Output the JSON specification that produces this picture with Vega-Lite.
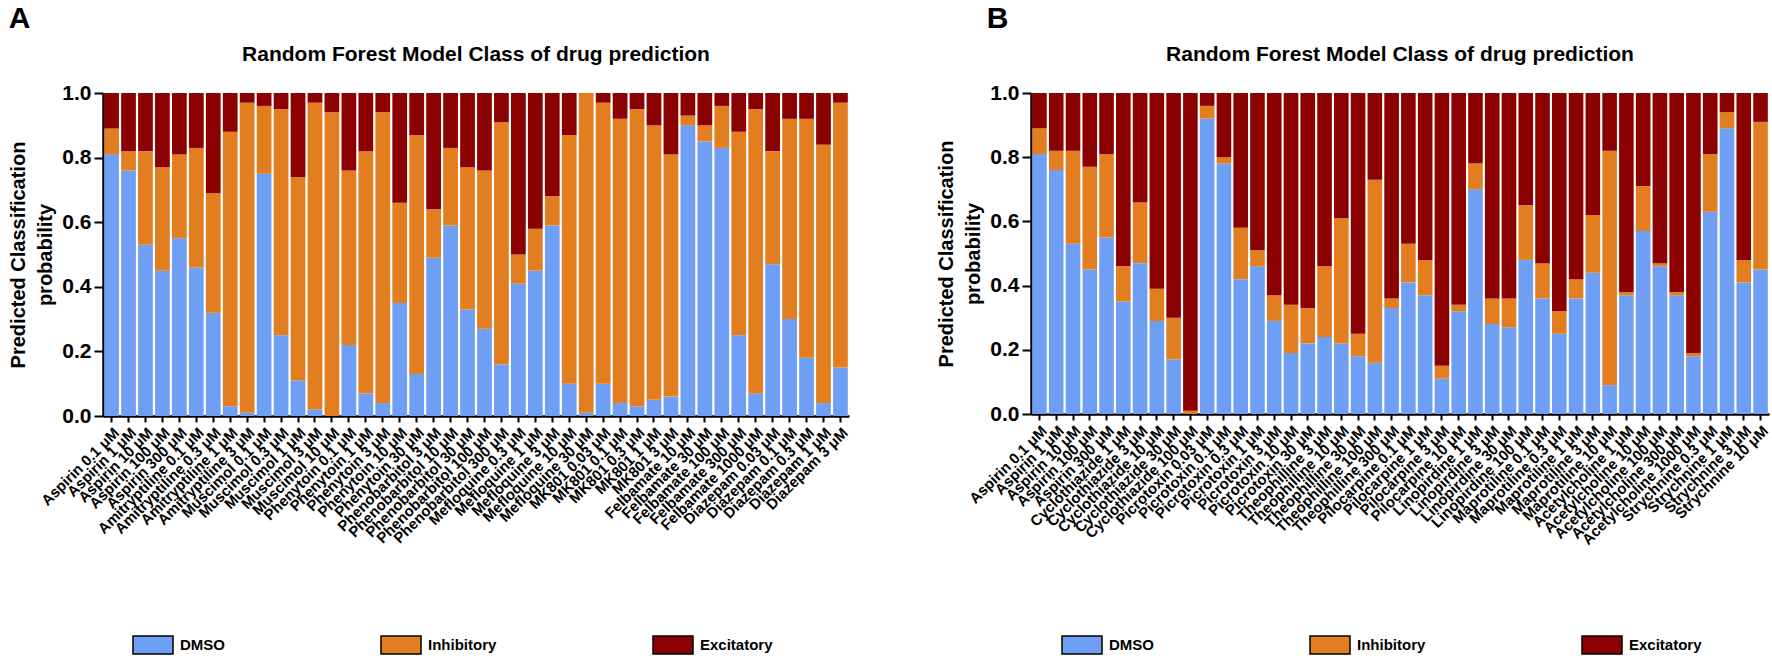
{
  "$schema": "https://vega.github.io/schema/vega-lite/v6.json",
  "padding": {"left": 8, "top": 4, "right": 4, "bottom": 2},
  "background": "white",
  "datasets": {
    "A": [
      {"drug": "Aspirin 0.1 μM", "DMSO": 0.81, "Inhibitory": 0.08, "Excitatory": 0.11},
      {"drug": "Aspirin 1 μM", "DMSO": 0.76, "Inhibitory": 0.06, "Excitatory": 0.18},
      {"drug": "Aspirin 10 μM", "DMSO": 0.53, "Inhibitory": 0.29, "Excitatory": 0.18},
      {"drug": "Aspirin 100 μM", "DMSO": 0.45, "Inhibitory": 0.32, "Excitatory": 0.23},
      {"drug": "Aspirin 300 μM", "DMSO": 0.55, "Inhibitory": 0.26, "Excitatory": 0.19},
      {"drug": "Amitryptiline 0.1 μM", "DMSO": 0.46, "Inhibitory": 0.37, "Excitatory": 0.17},
      {"drug": "Amitryptiline 0.3 μM", "DMSO": 0.32, "Inhibitory": 0.37, "Excitatory": 0.31},
      {"drug": "Amitryptiline 1 μM", "DMSO": 0.03, "Inhibitory": 0.85, "Excitatory": 0.12},
      {"drug": "Amitryptiline 3 μM", "DMSO": 0.01, "Inhibitory": 0.96, "Excitatory": 0.03},
      {"drug": "Muscimol 0.1 μM", "DMSO": 0.75, "Inhibitory": 0.21, "Excitatory": 0.04},
      {"drug": "Muscimol 0.3 μM", "DMSO": 0.25, "Inhibitory": 0.70, "Excitatory": 0.05},
      {"drug": "Muscimol 1 μM", "DMSO": 0.11, "Inhibitory": 0.63, "Excitatory": 0.26},
      {"drug": "Muscimol 3 μM", "DMSO": 0.02, "Inhibitory": 0.95, "Excitatory": 0.03},
      {"drug": "Muscimol 10 μM", "DMSO": 0.0, "Inhibitory": 0.94, "Excitatory": 0.06},
      {"drug": "Phenytoin 0.1 μM", "DMSO": 0.22, "Inhibitory": 0.54, "Excitatory": 0.24},
      {"drug": "Phenytoin 1 μM", "DMSO": 0.07, "Inhibitory": 0.75, "Excitatory": 0.18},
      {"drug": "Phenytoin 3 μM", "DMSO": 0.04, "Inhibitory": 0.90, "Excitatory": 0.06},
      {"drug": "Phenytoin 10 μM", "DMSO": 0.35, "Inhibitory": 0.31, "Excitatory": 0.34},
      {"drug": "Phenytoin 30 μM", "DMSO": 0.13, "Inhibitory": 0.74, "Excitatory": 0.13},
      {"drug": "Phenobarbitol 3 μM", "DMSO": 0.49, "Inhibitory": 0.15, "Excitatory": 0.36},
      {"drug": "Phenobarbitol 10 μM", "DMSO": 0.59, "Inhibitory": 0.24, "Excitatory": 0.17},
      {"drug": "Phenobarbitol 30 μM", "DMSO": 0.33, "Inhibitory": 0.44, "Excitatory": 0.23},
      {"drug": "Phenobarbitol 100 μM", "DMSO": 0.27, "Inhibitory": 0.49, "Excitatory": 0.24},
      {"drug": "Phenobarbitol 300 μM", "DMSO": 0.16, "Inhibitory": 0.75, "Excitatory": 0.09},
      {"drug": "Mefloquine 0.3 μM", "DMSO": 0.41, "Inhibitory": 0.09, "Excitatory": 0.50},
      {"drug": "Mefloquine 1 μM", "DMSO": 0.45, "Inhibitory": 0.13, "Excitatory": 0.42},
      {"drug": "Mefloquine 3 μM", "DMSO": 0.59, "Inhibitory": 0.09, "Excitatory": 0.32},
      {"drug": "Mefloquine 10 μM", "DMSO": 0.10, "Inhibitory": 0.77, "Excitatory": 0.13},
      {"drug": "Mefloquine 30 μM", "DMSO": 0.01, "Inhibitory": 0.99, "Excitatory": 0.0},
      {"drug": "MK801 0.03 μM", "DMSO": 0.10, "Inhibitory": 0.87, "Excitatory": 0.03},
      {"drug": "MK801 0.1 μM", "DMSO": 0.04, "Inhibitory": 0.88, "Excitatory": 0.08},
      {"drug": "MK801 0.3 μM", "DMSO": 0.03, "Inhibitory": 0.92, "Excitatory": 0.05},
      {"drug": "MK801 1 μM", "DMSO": 0.05, "Inhibitory": 0.85, "Excitatory": 0.10},
      {"drug": "MK801 3 μM", "DMSO": 0.06, "Inhibitory": 0.75, "Excitatory": 0.19},
      {"drug": "Felbamate 10 μM", "DMSO": 0.90, "Inhibitory": 0.03, "Excitatory": 0.07},
      {"drug": "Felbamate 30 μM", "DMSO": 0.85, "Inhibitory": 0.05, "Excitatory": 0.10},
      {"drug": "Felbamate 100 μM", "DMSO": 0.83, "Inhibitory": 0.13, "Excitatory": 0.04},
      {"drug": "Felbamate 300 μM", "DMSO": 0.25, "Inhibitory": 0.63, "Excitatory": 0.12},
      {"drug": "Felbamate 1000 μM", "DMSO": 0.07, "Inhibitory": 0.88, "Excitatory": 0.05},
      {"drug": "Diazepam 0.03 μM", "DMSO": 0.47, "Inhibitory": 0.35, "Excitatory": 0.18},
      {"drug": "Diazepam 0.1 μM", "DMSO": 0.30, "Inhibitory": 0.62, "Excitatory": 0.08},
      {"drug": "Diazepam 0.3 μM", "DMSO": 0.18, "Inhibitory": 0.74, "Excitatory": 0.08},
      {"drug": "Diazepam 1 μM", "DMSO": 0.04, "Inhibitory": 0.80, "Excitatory": 0.16},
      {"drug": "Diazepam 3 μM", "DMSO": 0.15, "Inhibitory": 0.82, "Excitatory": 0.03}
    ],
    "B": [
      {"drug": "Aspirin 0.1 μM", "DMSO": 0.81, "Inhibitory": 0.08, "Excitatory": 0.11},
      {"drug": "Aspirin 1 μM", "DMSO": 0.76, "Inhibitory": 0.06, "Excitatory": 0.18},
      {"drug": "Aspirin 10 μM", "DMSO": 0.53, "Inhibitory": 0.29, "Excitatory": 0.18},
      {"drug": "Aspirin 100 μM", "DMSO": 0.45, "Inhibitory": 0.32, "Excitatory": 0.23},
      {"drug": "Aspirin 300 μM", "DMSO": 0.55, "Inhibitory": 0.26, "Excitatory": 0.19},
      {"drug": "Cyclothiazide 1 μM", "DMSO": 0.35, "Inhibitory": 0.11, "Excitatory": 0.54},
      {"drug": "Cyclothiazide 3 μM", "DMSO": 0.47, "Inhibitory": 0.19, "Excitatory": 0.34},
      {"drug": "Cyclothiazide 10 μM", "DMSO": 0.29, "Inhibitory": 0.10, "Excitatory": 0.61},
      {"drug": "Cyclothiazide 30 μM", "DMSO": 0.17, "Inhibitory": 0.13, "Excitatory": 0.70},
      {"drug": "Cyclothiazide 100 μM", "DMSO": 0.0, "Inhibitory": 0.01, "Excitatory": 0.99},
      {"drug": "Picrotoxin 0.03 μM", "DMSO": 0.92, "Inhibitory": 0.04, "Excitatory": 0.04},
      {"drug": "Picrotoxin 0.1 μM", "DMSO": 0.78, "Inhibitory": 0.02, "Excitatory": 0.20},
      {"drug": "Picrotoxin 0.3 μM", "DMSO": 0.42, "Inhibitory": 0.16, "Excitatory": 0.42},
      {"drug": "Picrotoxin 1 μM", "DMSO": 0.46, "Inhibitory": 0.05, "Excitatory": 0.49},
      {"drug": "Picrotoxin 3 μM", "DMSO": 0.29, "Inhibitory": 0.08, "Excitatory": 0.63},
      {"drug": "Picrotoxin 10 μM", "DMSO": 0.19, "Inhibitory": 0.15, "Excitatory": 0.66},
      {"drug": "Picrotoxin 30 μM", "DMSO": 0.22, "Inhibitory": 0.11, "Excitatory": 0.67},
      {"drug": "Theophilline 3 μM", "DMSO": 0.24, "Inhibitory": 0.22, "Excitatory": 0.54},
      {"drug": "Theophilline 10 μM", "DMSO": 0.22, "Inhibitory": 0.39, "Excitatory": 0.39},
      {"drug": "Theophilline 30 μM", "DMSO": 0.18, "Inhibitory": 0.07, "Excitatory": 0.75},
      {"drug": "Theophilline 100 μM", "DMSO": 0.16, "Inhibitory": 0.57, "Excitatory": 0.27},
      {"drug": "Theophilline 300 μM", "DMSO": 0.33, "Inhibitory": 0.03, "Excitatory": 0.64},
      {"drug": "Pilocarpine 0.1 μM", "DMSO": 0.41, "Inhibitory": 0.12, "Excitatory": 0.47},
      {"drug": "Pilocarpine 1 μM", "DMSO": 0.37, "Inhibitory": 0.11, "Excitatory": 0.52},
      {"drug": "Pilocarpine 3 μM", "DMSO": 0.11, "Inhibitory": 0.04, "Excitatory": 0.85},
      {"drug": "Pilocarpine 10 μM", "DMSO": 0.32, "Inhibitory": 0.02, "Excitatory": 0.66},
      {"drug": "Linopirdine 1 μM", "DMSO": 0.70, "Inhibitory": 0.08, "Excitatory": 0.22},
      {"drug": "Linopirdine 3 μM", "DMSO": 0.28, "Inhibitory": 0.08, "Excitatory": 0.64},
      {"drug": "Linopirdine 30 μM", "DMSO": 0.27, "Inhibitory": 0.09, "Excitatory": 0.64},
      {"drug": "Linopirdine 100 μM", "DMSO": 0.48, "Inhibitory": 0.17, "Excitatory": 0.35},
      {"drug": "Maprotiline 0.1 μM", "DMSO": 0.36, "Inhibitory": 0.11, "Excitatory": 0.53},
      {"drug": "Maprotiline 0.3 μM", "DMSO": 0.25, "Inhibitory": 0.07, "Excitatory": 0.68},
      {"drug": "Maprotiline 1 μM", "DMSO": 0.36, "Inhibitory": 0.06, "Excitatory": 0.58},
      {"drug": "Maprotiline 3 μM", "DMSO": 0.44, "Inhibitory": 0.18, "Excitatory": 0.38},
      {"drug": "Maprotiline 10 μM", "DMSO": 0.09, "Inhibitory": 0.73, "Excitatory": 0.18},
      {"drug": "Acetylcholine 1 μM", "DMSO": 0.37, "Inhibitory": 0.01, "Excitatory": 0.62},
      {"drug": "Acetylcholine 10 μM", "DMSO": 0.57, "Inhibitory": 0.14, "Excitatory": 0.29},
      {"drug": "Acetylcholine 100 μM", "DMSO": 0.46, "Inhibitory": 0.01, "Excitatory": 0.53},
      {"drug": "Acetylcholine 300 μM", "DMSO": 0.37, "Inhibitory": 0.01, "Excitatory": 0.62},
      {"drug": "Acetylcholine 1000 μM", "DMSO": 0.18, "Inhibitory": 0.01, "Excitatory": 0.81},
      {"drug": "Strychnine 0.3 μM", "DMSO": 0.63, "Inhibitory": 0.18, "Excitatory": 0.19},
      {"drug": "Strychnine 1 μM", "DMSO": 0.89, "Inhibitory": 0.05, "Excitatory": 0.06},
      {"drug": "Strychnine 3 μM", "DMSO": 0.41, "Inhibitory": 0.07, "Excitatory": 0.52},
      {"drug": "Strychnine 10 μM", "DMSO": 0.45, "Inhibitory": 0.46, "Excitatory": 0.09}
    ]
  },
  "hconcat": [
    {
      "title": {"text": "A", "anchor": "start", "fontSize": 30, "fontWeight": "bold", "offset": 10},
      "vconcat": [
        {
          "title": "Random Forest Model Class of drug prediction",
          "width": 746,
          "height": 323,
          "data": {"name": "A"},
          "transform": [
            {"fold": ["DMSO", "Inhibitory", "Excitatory"], "as": ["class", "prob"]},
            {"calculate": "indexof(['DMSO','Inhibitory','Excitatory'], datum['class'])", "as": "stackOrder"}
          ],
          "mark": {"type": "bar"},
          "encoding": {
            "x": {"field": "drug", "type": "nominal", "sort": null, "title": null,
                  "scale": {"paddingInner": 0.13, "paddingOuter": 0.07}},
            "y": {"field": "prob", "type": "quantitative", "stack": "zero",
                  "title": ["Predicted Classification", "probability"],
                  "scale": {"domain": [0, 1], "nice": false},
                  "axis": {"values": [0, 0.2, 0.4, 0.6, 0.8, 1], "format": ".1f"}},
            "color": {"field": "class", "type": "nominal",
                      "scale": {"domain": ["DMSO", "Inhibitory", "Excitatory"], "range": ["#6F9FF5", "#E27E1F", "#8B0000"]},
                      "legend": {"orient": "none", "legendX": 29, "legendY": 531, "direction": "horizontal"}},
            "order": {"field": "stackOrder", "type": "quantitative", "sort": "ascending"}
          }
        }
      ]
    },
    {
      "title": {"text": "B", "anchor": "start", "fontSize": 30, "fontWeight": "bold", "offset": 10, "dx": 50},
      "vconcat": [
        {
          "title": "Random Forest Model Class of drug prediction",
          "width": 738,
          "height": 321,
          "data": {"name": "B"},
          "transform": [
            {"fold": ["DMSO", "Inhibitory", "Excitatory"], "as": ["class", "prob"]},
            {"calculate": "indexof(['DMSO','Inhibitory','Excitatory'], datum['class'])", "as": "stackOrder"}
          ],
          "mark": {"type": "bar"},
          "encoding": {
            "x": {"field": "drug", "type": "nominal", "sort": null, "title": null,
                  "scale": {"paddingInner": 0.13, "paddingOuter": 0.07}},
            "y": {"field": "prob", "type": "quantitative", "stack": "zero",
                  "title": ["Predicted Classification", "probability"],
                  "scale": {"domain": [0, 1], "nice": false},
                  "axis": {"values": [0, 0.2, 0.4, 0.6, 0.8, 1], "format": ".1f"}},
            "color": {"field": "class", "type": "nominal",
                      "scale": {"domain": ["DMSO", "Inhibitory", "Excitatory"], "range": ["#6F9FF5", "#E27E1F", "#8B0000"]},
                      "legend": {"orient": "none", "legendX": 30, "legendY": 531, "direction": "horizontal"}},
            "order": {"field": "stackOrder", "type": "quantitative", "sort": "ascending"}
          }
        }
      ]
    }
  ],
  "spacing": 85,
  "resolve": {"scale": {"color": "independent", "x": "independent"}, "legend": {"color": "independent"}},
  "config": {
    "font": "Liberation Sans",
    "view": {"stroke": null},
    "title": {"fontSize": 21, "fontWeight": "bold", "color": "black", "anchor": "middle", "offset": 17},
    "axis": {
      "domainColor": "black", "domainWidth": 2.5, "tickColor": "black", "tickWidth": 2,
      "labelColor": "black", "labelFontWeight": "bold", "titleColor": "black", "titleFontWeight": "bold",
      "grid": false
    },
    "axisY": {"labelFontSize": 21, "tickSize": 9, "titleFontSize": 20, "titlePadding": 6, "labelPadding": 3, "titleLineHeight": 27},
    "axisX": {"labelAngle": -45, "labelFontSize": 15, "tickSize": 6, "labelPadding": 3, "labelOverlap": false},
    "legend": {
      "title": null,
      "symbolType": "M-1,-0.45H1V0.45H-1Z",
      "symbolSize": 1600,
      "symbolStrokeColor": "black",
      "symbolStrokeWidth": 1.5,
      "symbolOpacity": 1,
      "labelFontSize": 15,
      "labelFontWeight": "bold",
      "labelColor": "black",
      "labelOffset": 6,
      "columnPadding": 153
    }
  }
}
